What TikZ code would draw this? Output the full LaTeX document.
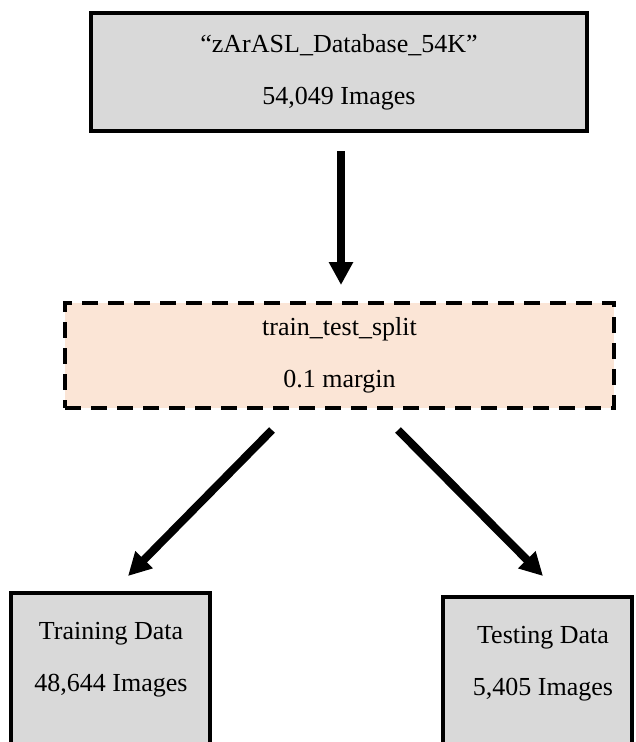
\documentclass[tikz,border=0pt]{standalone}
\usepackage{fontspec}
\setmainfont{Liberation Serif}
\usetikzlibrary{positioning,calc,arrows.meta}
\definecolor{boxgray}{HTML}{D9D9D9}
\definecolor{peach}{HTML}{FBE5D6}
\newcommand{\bodyfont}{\fontsize{26}{52}\selectfont}

\tikzset{
  databox/.style={draw=black,fill=boxgray,line width=4pt,inner sep=0pt,
    align=center,font=\bodyfont},
  splitbox/.style={draw=black,fill=peach,line width=4pt,inner sep=0pt,
    dash pattern=on 16pt off 10pt,align=center,font=\bodyfont},
  boxtext/.style={align=center,font=\bodyfont,inner sep=0pt},
  bigarrow/.style={line width=8pt,-{Triangle[width=23pt,length=23pt]}},
}

\begin{document}
\begin{tikzpicture}[x=1pt,y=-1pt]
  \clip (0,0) rectangle (635,742);

  % --- Base de datos ---
  \node[databox,minimum width=496pt,minimum height=118pt]
    (db) at (339,72) {``zArASL\_Database\_54K''\\54,049 Images};

  % --- Division ---
  \node[splitbox,minimum width=549pt,minimum height=105pt]
    (split) at (339.5,355.5) {train\_test\_split\\0.1 margin};

  % --- Cajas de abajo (cortadas por el borde) ---
  \node[databox,minimum width=199pt,minimum height=300pt,anchor=north]
    (train) at (110.5,591) {};
  \node[boxtext] (traintxt) at (111,660) {Training Data\\48,644 Images};
  \node[databox,minimum width=189pt,minimum height=300pt,anchor=north]
    (test) at (537.5,595) {};
  \node[boxtext] (testtxt) at (543,664) {Testing Data\\5,405 Images};

  % --- Flechas ---
  \draw[bigarrow] ($(db.south)+(2,18)$) -- ($(split.north)+(1.5,-16)$);
  \draw[bigarrow] ($(split.south)+(-67.5,20)$) -- ($(train.north)+(17.5,-15)$);
  \draw[bigarrow] ($(split.south)+(58.5,20)$) -- ($(test.north)+(5.5,-19)$);
\end{tikzpicture}
\end{document}
